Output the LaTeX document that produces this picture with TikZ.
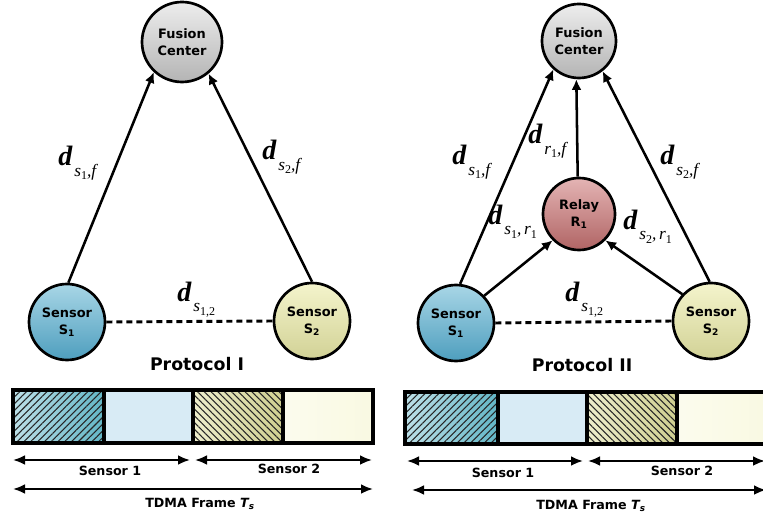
\documentclass[tikz,border=0pt]{standalone}
\usepackage{fontspec}
\setmainfont{DejaVu Sans}
\newfontfamily\timesfont{Liberation Serif}
\usetikzlibrary{arrows.meta,patterns.meta}
\definecolor{fcTop}{HTML}{EDEDED}
\definecolor{fcBot}{HTML}{B4B4B4}
\definecolor{sATop}{HTML}{A8D6E6}
\definecolor{sABot}{HTML}{4E9EBE}
\definecolor{sBTop}{HTML}{F4F4CC}
\definecolor{sBBot}{HTML}{D2D296}
\definecolor{rlTop}{HTML}{E4B4B4}
\definecolor{rlBot}{HTML}{B06464}
\definecolor{hatchA}{HTML}{BDE0E8}
\definecolor{hatchAB}{HTML}{62B6C6}
\definecolor{hatchB}{HTML}{EEEECC}
\definecolor{hatchBB}{HTML}{CFCF90}
\definecolor{cellA}{HTML}{D8EBF5}
\definecolor{cellB}{HTML}{F9F9E2}
\newcommand{\dlab}[1]{{\fontsize{21}{21}\selectfont\bfseries d}\kern1.5pt\raisebox{-8pt}{\fontsize{13}{13}\selectfont #1}}
\newcommand{\dsub}[1]{\raisebox{-2.5pt}{\fontsize{9}{9}\selectfont\upshape #1}}
\begin{document}
\begin{tikzpicture}[x=0.75pt,y=-0.75pt,
  station/.style={circle,draw,line width=2pt,minimum size=57pt,inner sep=0pt,align=center,
    font=\bfseries\fontsize{9.7}{12.5}\selectfont},
  fusion/.style={station,top color=fcTop,bottom color=fcBot},
  sensorA/.style={station,top color=sATop,bottom color=sABot},
  sensorB/.style={station,top color=sBTop,bottom color=sBBot},
  relay/.style={station,top color=rlTop,bottom color=rlBot,minimum size=54pt},
  link/.style={-{Latex[length=8pt,width=7.5pt]},line width=1.9pt},
  pair/.style={line width=2.2pt,dash pattern=on 4.5pt off 3pt},
  dist/.style={anchor=base west,inner sep=0pt,font=\timesfont\itshape},
  title/.style={font=\bfseries\fontsize{13}{13}\selectfont},
  caption/.style={font=\bfseries\fontsize{9.5}{9.5}\selectfont},
  span/.style={{Latex[length=9pt,width=7.5pt]}-{Latex[length=9pt,width=7.5pt]},line width=2pt},
  frame/.style={draw,line width=2.6pt}]
  \useasboundingbox (0,0) rectangle (763,520);

  % Protocol I: direct links to the fusion center.
  \node[fusion,minimum size=60pt] (fcI) at (182,42) {Fusion\\Center};
  \node[sensorA] (s1I) at (67,322) {Sensor\\S\textsubscript{1}};
  \node[sensorB] (s2I) at (312,321) {Sensor\\S\textsubscript{2}};
  \draw[link] (s1I.88) -- (fcI.227);
  \draw[link] (s2I.90) -- (fcI.310);
  \draw[pair] (s1I.east) -- (s2I.west);
  \node[dist] (dsfI) at (58,166) {\dlab{s\dsub{1},f}};
  \node[dist] (dtfI) at (262,160) {\dlab{s\dsub{2},f}};
  \node[dist] (dssI) at (177,301) {\dlab{s\dsub{1,2}}};
  \node[title] (pI) at (197,364) {Protocol I};

  % Protocol II: the relay sits between the sensors and the fusion center.
  \node[fusion,minimum size=55.5pt] (fcII) at (579,41) {Fusion\\Center};
  \node[relay] (rII) at (579,214) {Relay\\R\textsubscript{1}};
  \node[sensorA] (s1II) at (456,323) {Sensor\\S\textsubscript{1}};
  \node[sensorB] (s2II) at (711,321) {Sensor\\S\textsubscript{2}};
  \draw[link] (s1II.84) -- (fcII.228);
  \draw[link] (s2II.92) -- (fcII.308);
  \draw[link] (s1II.44) -- (rII.225);
  \draw[link] (s2II.137) -- (rII.315);
  \draw[link] (rII.92) -- (fcII.266);
  \draw[pair] (s1II.east) -- (s2II.west);
  \node[dist] (dsfII) at (452,165) {\dlab{s\dsub{1},f}};
  \node[dist] (drfII) at (528,144) {\dlab{r\dsub{1},f}};
  \node[dist] (dtfII) at (660,165) {\dlab{s\dsub{2},f}};
  \node[dist] (dsrII) at (488,224) {\dlab{s\dsub{1},\,r\dsub{1}}};
  \node[dist] (dtrII) at (623,229) {\dlab{s\dsub{2},\,r\dsub{1}}};
  \node[dist] (dssII) at (565,301) {\dlab{s\dsub{1,2}}};
  \node[title] (pII) at (582,365) {Protocol II};

  % TDMA frame, Protocol I.
  \path[left color=hatchA,right color=hatchAB] (13,390) rectangle (104,443);
  \path[pattern={Lines[angle=45,distance=3.6pt,line width=.8pt]},pattern color=black!85] (13,390) rectangle (104,443);
  \path[fill=cellA] (104,390) rectangle (193,443);
  \path[left color=hatchB,right color=hatchBB] (193,390) rectangle (283,443);
  \path[pattern={Lines[angle=-45,distance=3.6pt,line width=.8pt]},pattern color=black!85] (193,390) rectangle (283,443);
  \path[left color=cellB!60!white,right color=cellB] (283,390) rectangle (373,443);
  \path[frame] (13,390) rectangle (373,443) (104,390) -- (104,443) (193,390) -- (193,443) (283,390) -- (283,443);
  \draw[span] (13,460) -- (190,460);
  \draw[span] (195,460) -- (372,460);
  \draw[span] (13,489) -- (373,489);
  \node[caption] (c1I) at (110,471) {Sensor 1};
  \node[caption] (c2I) at (289,469) {Sensor 2};
  \node[caption] (cfI) at (200,504) {TDMA Frame {\itshape T\textsubscript{s}}};

  % TDMA frame, Protocol II (runs past the right edge).
  \path[left color=hatchA,right color=hatchAB] (405,392) rectangle (498,444);
  \path[pattern={Lines[angle=45,distance=3.6pt,line width=.8pt]},pattern color=black!85] (405,392) rectangle (498,444);
  \path[fill=cellA] (498,392) rectangle (587,444);
  \path[left color=hatchB,right color=hatchBB] (587,392) rectangle (677,444);
  \path[pattern={Lines[angle=-45,distance=3.6pt,line width=.8pt]},pattern color=black!85] (587,392) rectangle (677,444);
  \path[left color=cellB!60!white,right color=cellB] (677,392) rectangle (768,444);
  \path[frame] (405,392) rectangle (768,444) (498,392) -- (498,444) (587,392) -- (587,444) (677,392) -- (677,444);
  \draw[span] (407,461) -- (583,461);
  \draw[span] (588,461) -- (765,461);
  \draw[span] (412,490) -- (766,490);
  \node[caption] (c1II) at (503,473) {Sensor 1};
  \node[caption] (c2II) at (682,471) {Sensor 2};
  \node[caption] (cfII) at (591,506) {TDMA Frame {\itshape T\textsubscript{s}}};
\end{tikzpicture}
\end{document}
